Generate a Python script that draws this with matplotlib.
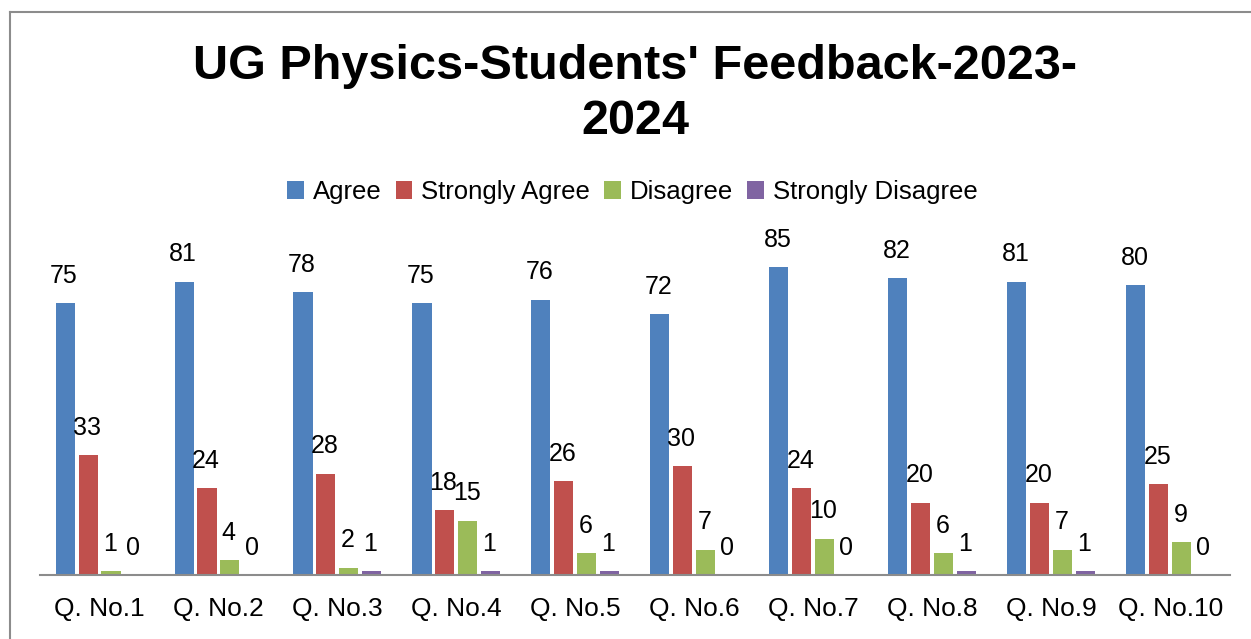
import numpy as np
import matplotlib.pyplot as plt
from matplotlib.lines import Line2D

plt.rcParams['font.family'] = ['Liberation Sans', 'DejaVu Sans']

questions = ['Q. No.1', 'Q. No.2', 'Q. No.3', 'Q. No.4', 'Q. No.5',
             'Q. No.6', 'Q. No.7', 'Q. No.8', 'Q. No.9', 'Q. No.10']
agree = [75, 81, 78, 75, 76, 72, 85, 82, 81, 80]
strongly_agree = [33, 24, 28, 18, 26, 30, 24, 20, 20, 25]
disagree = [1, 4, 2, 15, 6, 7, 10, 6, 7, 9]
strongly_disagree = [0, 0, 1, 1, 1, 0, 0, 1, 1, 0]

series_names = ['Agree', 'Strongly Agree', 'Disagree', 'Strongly Disagree']
colors = ['#4F81BD', '#C0504D', '#9BBB59', '#8064A2']

fig = plt.figure(figsize=(12.51, 6.39), dpi=100)
ax = fig.add_axes([0.032, 0.1002, 0.951, 0.5101])

x = np.arange(len(questions))
step = 0.193
width = 0.16
all_series = [agree, strongly_agree, disagree, strongly_disagree]
for i, (vals, name, col) in enumerate(zip(all_series, series_names, colors)):
    bars = ax.bar(x + (i - 1.5) * step, vals, width, color=col, label=name)
    for b, v in zip(bars, vals):
        ax.annotate(str(v), (b.get_x() + b.get_width() / 2, b.get_height()),
                    xytext=(-1, 11), textcoords='offset points',
                    ha='center', va='bottom', fontsize=18, annotation_clip=False)

ax.set_xlim(-0.5, 9.5)
ax.set_ylim(0, 90)
ax.set_yticks([])
ax.set_xticks(x)
ax.set_xticklabels(questions, fontsize=19)
ax.tick_params(axis='x', length=0, pad=16)
for s in ['top', 'right', 'left']:
    ax.spines[s].set_visible(False)
ax.spines['bottom'].set_color('#8c8c8c')
ax.spines['bottom'].set_linewidth(1.5)

fig.text(0.5076, 0.853, "UG Physics-Students' Feedback-2023-\n2024",
         ha='center', va='center', fontsize=35, fontweight='bold', linespacing=1.27)

ax.legend(loc='center', bbox_to_anchor=(0.5055, 0.6995), bbox_transform=fig.transFigure,
          ncol=4, frameon=False, fontsize=18.5, handlelength=0.65, handleheight=0.65,
          handletextpad=0.35, columnspacing=0.55)

# outer chart frame (only top and left edges visible)
fig.add_artist(Line2D([0.008, 0.008], [0.0, 0.981], color='#8c8c8c', lw=1.5))
fig.add_artist(Line2D([0.008, 1.0], [0.981, 0.981], color='#8c8c8c', lw=1.5))

fig.savefig('out.png', dpi=100)
